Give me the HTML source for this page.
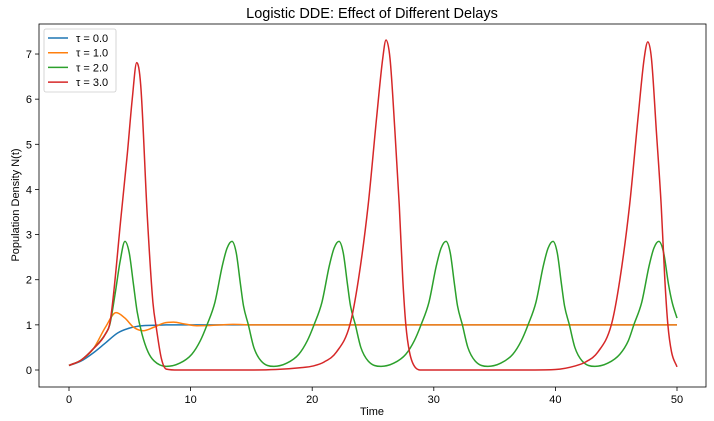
<!DOCTYPE html>
<html><head><meta charset="utf-8"><style>
body{margin:0;background:#fff;}
svg{display:block;font-family:"Liberation Sans","DejaVu Sans",sans-serif;}
</style></head><body>
<svg id="chart" width="714" height="421"></svg>
<script>
const xTicks=[0,10,20,30,40,50];
const yTicks=[0,1,2,3,4,5,6,7];
const seriesNames=["τ = 0.0","τ = 1.0","τ = 2.0","τ = 3.0"];
const seriesColors=["#1f77b4","#ff7f0e","#2ca02c","#d62728"];
const blueT=[0,1,2,3,4,5,6,7,8,10,50];
const blueY=[0.1,0.2,0.38,0.6,0.82,0.93,0.98,0.99,1,1,1];
const orangeT=[0,1,2,3,3.87,4.6,5.3,6.1,7.0,7.8,8.6,9.5,10.5,11.5,12.5,13.5,15,50];
const orangeY=[0.1,0.22,0.47,0.95,1.27,1.15,0.95,0.87,0.95,1.04,1.06,1.02,0.98,0.985,1.0,1.01,1.0,1.0];
const greenT=[0,1,2,3,3.35,3.8,4.2,4.6,4.95,5.3,5.6,6.0,6.5,7.0,8.0,9.1,10.1,10.8,11.35,12.0,12.6,13.0,13.4,13.75,14.1,14.35,14.75,15.2,15.8,16.85,17.9,18.9,19.6,20.15,20.8,21.4,21.8,22.2,22.55,22.9,23.15,23.55,24.0,24.6,25.65,26.7,27.7,28.4,28.95,29.6,30.2,30.6,31.0,31.35,31.7,31.95,32.35,32.8,33.4,34.45,35.5,36.5,37.2,37.75,38.4,39.0,39.4,39.8,40.15,40.5,40.75,41.15,41.6,42.2,43.25,44.3,45.3,46.0,46.45,47.1,47.7,48.1,48.5,48.9,49.3,49.6,50];
const greenY=[0.1,0.22,0.47,0.8,1.0,1.7,2.4,2.85,2.6,1.9,1.3,0.8,0.4,0.2,0.08,0.15,0.35,0.65,1.0,1.5,2.3,2.7,2.85,2.6,1.9,1.42,1.0,0.5,0.2,0.08,0.15,0.35,0.65,1.0,1.5,2.3,2.7,2.85,2.6,1.9,1.42,1.0,0.5,0.2,0.08,0.15,0.35,0.65,1.0,1.5,2.3,2.7,2.85,2.6,1.9,1.42,1.0,0.5,0.2,0.08,0.15,0.35,0.65,1.0,1.5,2.3,2.7,2.85,2.6,1.9,1.42,1.0,0.5,0.2,0.08,0.15,0.35,0.65,1.0,1.5,2.3,2.7,2.85,2.6,1.9,1.5,1.15];
const redT=[0,1,2,3,3.4,4.28,4.8,5.2,5.57,5.9,6.44,6.9,7.2,7.6,8.0,9,15,17,19,20.1,21,22,23.1,23.8,24.6,25.3,25.8,26.07,26.4,26.8,27.16,27.45,27.7,28.0,28.5,29,38,40,41.63,42.5,43.5,44.6,45.3,46.1,46.8,47.3,47.6,47.9,48.3,48.7,49.0,49.25,49.55,50];
const redY=[0.1,0.22,0.47,0.8,1.1,3.4,4.8,6.0,6.81,6.3,3.4,1.5,0.9,0.25,0.02,0,0,0.01,0.05,0.09,0.18,0.4,1.0,2.0,3.65,5.6,6.9,7.31,6.9,5.3,3.65,2.0,1.0,0.4,0.05,0,0,0.01,0.09,0.18,0.4,1.0,2.0,3.65,5.6,6.9,7.27,6.9,5.3,3.65,2.0,1.0,0.4,0.07];
const seriesT=[blueT,orangeT,greenT,redT];
const seriesY=[blueY,orangeY,greenY,redY];

const L=39,R=706,T=24,B=387;
const X=t=>69+t*12.16;
const Y=v=>370-v*45.14;
const NS="http://www.w3.org/2000/svg";
const svg=document.getElementById('chart');
function mk(tag,attrs,parent){const e=document.createElementNS(NS,tag);for(const k in attrs)e.setAttribute(k,attrs[k]);(parent||svg).appendChild(e);return e;}

function monotonePath(ts,vs){
  const n=ts.length,px=ts.map(X),py=vs.map(Y);
  const d=[],m=new Array(n);
  for(let i=0;i<n-1;i++)d.push((py[i+1]-py[i])/(px[i+1]-px[i]));
  m[0]=d[0];m[n-1]=d[n-2];
  for(let i=1;i<n-1;i++){m[i]=(d[i-1]*d[i]<=0)?0:(d[i-1]+d[i])/2;}
  for(let i=0;i<n-1;i++){
    if(d[i]===0){m[i]=0;m[i+1]=0;continue;}
    const a=m[i]/d[i],b=m[i+1]/d[i],s=a*a+b*b;
    if(s>9){const tt=3/Math.sqrt(s);m[i]=tt*a*d[i];m[i+1]=tt*b*d[i];}
  }
  let p="M"+px[0].toFixed(2)+","+py[0].toFixed(2);
  for(let i=0;i<n-1;i++){
    const h=(px[i+1]-px[i])/3;
    p+="C"+(px[i]+h).toFixed(2)+","+(py[i]+m[i]*h).toFixed(2)+" "+(px[i+1]-h).toFixed(2)+","+(py[i+1]-m[i+1]*h).toFixed(2)+" "+px[i+1].toFixed(2)+","+py[i+1].toFixed(2);
  }
  return p;
}

const title=mk('text',{x:372,y:18,'text-anchor':'middle','font-size':14.5,fill:'#000'});
title.textContent="Logistic DDE: Effect of Different Delays";



const clip=mk('clipPath',{id:'pc'});mk('rect',{x:L,y:T,width:R-L,height:B-T},clip);

for(let i=0;i<seriesT.length;i++){
  const p=mk('path',{d:monotonePath(seriesT[i],seriesY[i]),fill:'none',stroke:seriesColors[i],'stroke-width':1.5,'clip-path':'url(#pc)'});
  
  
}

const frame=mk('rect',{x:L,y:T,width:R-L,height:B-T,fill:'none',stroke:'#000','stroke-width':0.8});



xTicks.forEach(v=>{
  const g=mk('g',{});
  
  
  mk('line',{x1:X(v),x2:X(v),y1:B,y2:B+4,stroke:'#000','stroke-width':0.8},g);
  const t=mk('text',{x:X(v),y:B+16,'text-anchor':'middle','font-size':11,fill:'#000'},g);t.textContent=v;
});
yTicks.forEach(v=>{
  const g=mk('g',{});
  
  
  mk('line',{x1:L-4,x2:L,y1:Y(v),y2:Y(v),stroke:'#000','stroke-width':0.8},g);
  const t=mk('text',{x:L-7,y:Y(v)+4,'text-anchor':'end','font-size':11,fill:'#000'},g);t.textContent=v;
});
const xl=mk('text',{x:372,y:415,'text-anchor':'middle','font-size':11,fill:'#000'});xl.textContent="Time";


const yl=mk('text',{x:0,y:0,'text-anchor':'middle','font-size':11,fill:'#000',transform:'translate(19,205) rotate(-90)'});yl.textContent="Population Density N(t)";



const lg=mk('g',{});


mk('rect',{x:44,y:29,width:72,height:63,rx:2,fill:'#fff','fill-opacity':0.8,stroke:'#ccc','stroke-width':0.8},lg);
for(let i=0;i<seriesNames.length;i++){
  const e=mk('g',{},lg);
  
  
  const yy=38+i*14.7;
  mk('line',{x1:48,x2:68,y1:yy,y2:yy,stroke:seriesColors[i],'stroke-width':1.5},e);
  const t=mk('text',{x:76,y:yy+4,'font-size':11,fill:'#000'},e);t.textContent=seriesNames[i];
}
</script>
</body></html>
